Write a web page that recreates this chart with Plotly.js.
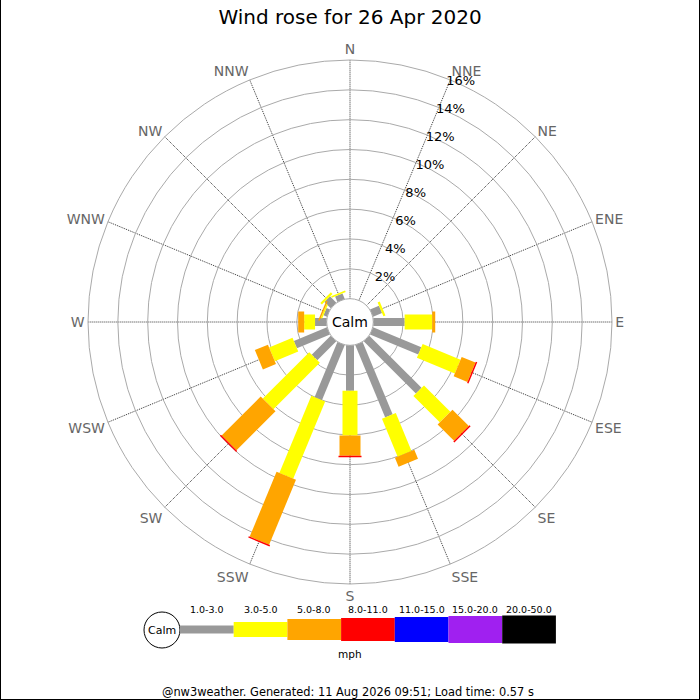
<!DOCTYPE html>
<html>
<head>
<meta charset="utf-8">
<script src="https://cdn.plot.ly/plotly-3.0.1.min.js"></script>
<style>
  html, body { margin: 0; padding: 0; background: #fff; }
  #chart { width: 700px; height: 700px; }
</style>
</head>
<body>
<div id="chart"></div>
<script>
// Wind directions, clockwise from north
const directions = ["N", "NNE", "NE", "ENE", "E", "ESE", "SE", "SSE",
                    "S", "SSW", "SW", "WSW", "W", "WNW", "NW", "NNW"];

// Speed classes (mph)
const speedClasses = ["1.0-3.0", "3.0-5.0", "5.0-8.0", "8.0-11.0",
                      "11.0-15.0", "15.0-20.0", "20.0-50.0"];

// Frequency (%) of each speed class per direction
const speed1to3   = [0, 0, 0, 0.65, 2.1, 3.5, 4.95, 5.25, 3.05, 4.0, 1.8, 2.4, 0.78, 0.25, 0.6, 0.4];
const speed3to5   = [0, 0, 0, 0.15, 1.85, 2.75, 2.5, 2.75, 3.0, 5.6, 4.4, 1.7, 0.73, 0.1, 0.15, 0.12];
const speed5to8   = [0, 0, 0, 0, 0.2, 1.0, 1.55, 0.65, 1.35, 4.7, 3.7, 0.95, 0.4, 0.1, 0, 0];
const speed8to11  = [0, 0, 0, 0, 0, 0.1, 0.1, 0, 0.1, 0.1, 0.1, 0, 0, 0, 0, 0];
const speed11to15 = [0, 0, 0, 0, 0, 0, 0, 0, 0, 0, 0, 0, 0, 0, 0, 0];
const speed15to20 = [0, 0, 0, 0, 0, 0, 0, 0, 0, 0, 0, 0, 0, 0, 0, 0];
const speed20to50 = [0, 0, 0, 0, 0, 0, 0, 0, 0, 0, 0, 0, 0, 0, 0, 0];

const radialTicks = [2, 4, 6, 8, 10, 12, 14, 16];

// styling per class: colour and bar thickness in px
const COLORS = ["#999999", "#ffff00", "#ffa500", "#ff0000", "#0000ff", "#a020f0", "#000000"];
const THICK = [8, 15, 21, 23, 25, 27, 28];
const FONT = "DejaVu Sans, Verdana, sans-serif";

const W = 700, H = 700;
const px = (x) => x / W;
const py = (y) => 1 - y / H;

// Stack each class onto the previous ones; each bar segment is a thick radial line
function buildTraces() {
  const series = [speed1to3, speed3to5, speed5to8, speed8to11, speed11to15, speed15to20, speed20to50];
  const base = directions.map(() => 0);
  return series.map((vals, k) => {
    const r = [];
    const theta = [];
    directions.forEach((d, i) => {
      r.push(base[i], base[i] + vals[i], null);
      theta.push(d, d, d);
      base[i] += vals[i];
    });
    return {
      type: "scatterpolar",
      mode: "lines",
      r: r,
      theta: theta,
      connectgaps: false,
      line: { color: COLORS[k], width: THICK[k] },
      hoverinfo: "skip",
      showlegend: false,
      name: speedClasses[k] + " mph",
    };
  });
}

// plain text note in paper coords, anchored on its centre
function note(x, y, text, size) {
  return {
    xref: "paper", yref: "paper", x: px(x), y: py(y),
    xanchor: "center", yanchor: "middle",
    text: text, showarrow: false,
    font: { family: FONT, size: size, color: "#000" },
  };
}

// Colour key under the rose
function buildKey() {
  const shapes = [];
  const annotations = [];
  const x0 = 180, segW = 53.7, yc = 629.5;

  shapes.push({
    type: "circle", xref: "paper", yref: "paper",
    x0: px(162 - 18), x1: px(162 + 18), y0: py(630 + 18), y1: py(630 - 18),
    line: { color: "#000", width: 1 }, fillcolor: "#fff",
  });
  annotations.push(note(162, 630, "Calm", 11));

  speedClasses.forEach((label, k) => {
    const a = x0 + k * segW;
    shapes.push({
      type: "rect", xref: "paper", yref: "paper",
      x0: px(a), x1: px(a + segW),
      y0: py(yc + THICK[k] / 2), y1: py(yc - THICK[k] / 2),
      line: { width: 0 }, fillcolor: COLORS[k],
    });
    annotations.push(note(a + segW / 2, 609, label, 9.5));
  });

  annotations.push(note(350, 654, "mph", 10.5));
  return { shapes, annotations };
}

const key = buildKey();

const layout = {
  width: W,
  height: H,
  margin: { l: 0, r: 0, t: 0, b: 0 },
  paper_bgcolor: "#fff",
  font: { family: FONT, color: "#000" },
  title: {
    text: "Wind rose for 26 Apr 2020",
    x: 0.5, xanchor: "center",
    y: py(17), yanchor: "middle",
    font: { family: FONT, size: 20, color: "#000" },
  },
  polar: {
    domain: { x: [px(88), px(612)], y: [py(584), py(60)] },
    bgcolor: "#fff",
    hole: 0.089,
    radialaxis: {
      range: [0, 16],
      tickmode: "array",
      tickvals: radialTicks,
      ticktext: radialTicks.map((v) => v + "%"),
      // labels sit just beside the NNE spoke
      angle: 70,
      tickangle: 70,
      showline: false,
      ticks: "",
      gridcolor: "#aaaaaa",
      gridwidth: 1,
      tickfont: { family: FONT, size: 13, color: "#000" },
    },
    angularaxis: {
      type: "category",
      categoryorder: "array",
      categoryarray: directions,
      rotation: 90,
      direction: "clockwise",
      ticks: "",
      showline: true,
      linecolor: "#aaaaaa",
      linewidth: 1,
      gridcolor: "#333333",
      griddash: "1px,1px",
      gridwidth: 1,
      tickfont: { family: FONT, size: 14, color: "#666666" },
    },
  },
  shapes: [
    ...key.shapes,
    { type: "line", xref: "paper", yref: "paper", x0: 0, x1: 0, y0: 0, y1: 1, line: { color: "#000", width: 2 } },
    { type: "line", xref: "paper", yref: "paper", x0: 1, x1: 1, y0: 0, y1: 1, line: { color: "#000", width: 2 } },
    { type: "line", xref: "paper", yref: "paper", x0: 0, x1: 1, y0: 0, y1: 0, line: { color: "#000", width: 2 } },
  ],
  annotations: [
    note(350, 322, "Calm", 14),
    ...key.annotations,
    note(348, 692, "@nw3weather. Generated: 11 Aug 2026 09:51; Load time: 0.57 s", 11.4),
  ],
};

Plotly.newPlot("chart", buildTraces(), layout, { staticPlot: true, displayModeBar: false });
</script>
</body>
</html>
